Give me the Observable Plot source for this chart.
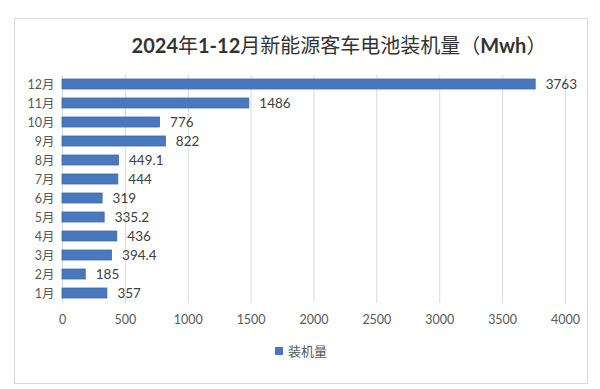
<!DOCTYPE html>
<html><head><meta charset="utf-8">
<script src="https://cdn.jsdelivr.net/npm/d3@7"></script>
<script src="https://cdn.jsdelivr.net/npm/@observablehq/plot@0.6"></script>
<style>
body{margin:0;background:#fff;}
#wrap{position:relative;width:600px;height:389px;overflow:hidden;font-family:Lato,"Noto Sans CJK SC",sans-serif;}
#border{position:absolute;left:14px;top:18px;width:574px;height:366px;border:1px solid #d9d9d9;box-sizing:border-box;}
#title{position:absolute;left:0;top:30px;width:678px;text-align:center;font-size:20px;font-weight:bold;color:#333;font-family:Lato,"Noto Sans CJK SC",sans-serif;white-space:nowrap;}
#title .cjk{font-weight:400;font-family:"Noto Sans CJK SC",sans-serif;}
#legend{position:absolute;left:275px;top:341px;font-size:13px;color:#595959;font-family:"Noto Sans CJK SC",sans-serif;display:flex;align-items:center;}
#legend span.sw{display:inline-block;width:8px;height:8px;background:#4a78be;margin-right:5px;}
#chart{position:absolute;left:0;top:0;}
</style></head>
<body>
<div id="wrap">
<div id="border"></div>
<div id="chart"></div>
<div id="title">2024<span class="cjk">年</span>1-12<span class="cjk">月新能源客车电池装机量（</span>Mwh<span class="cjk">）</span></div>
<div id="legend"><span class="sw"></span>装机量</div>
</div>
<script>
const months = ["1月","2月","3月","4月","5月","6月","7月","8月","9月","10月","11月","12月"];
const values = [357,185,394.4,436,335.2,319,444,449.1,822,776,1486,3763];
const labels = ["357","185","394.4","436","335.2","319","444","449.1","822","776","1486","3763"];
const xTicks = [0,500,1000,1500,2000,2500,3000,3500,4000];

const data = months.map((m,i)=>({month:m,value:values[i],label:labels[i]}));

const chart = Plot.plot({
  width:600,
  height:389,
  marginLeft:62,
  marginRight:35,
  marginTop:75,
  marginBottom:86,
  style:{fontFamily:'Lato,"Noto Sans CJK SC",sans-serif',background:"transparent"},
  x:{domain:[0,4000],ticks:xTicks,tickSize:0,tickPadding:12,label:null},
  y:{domain:months.slice().reverse(),paddingInner:0.45,paddingOuter:0.225,tickSize:0,tickPadding:8,label:null},
  marks:[
    Plot.gridX(xTicks,{stroke:"#d9d9d9",strokeOpacity:1,strokeWidth:1}),
    Plot.barX(data,{x:"value",y:"month",fill:"#4a78be",stroke:"#3f69a8",strokeWidth:0.8}),
    Plot.text(data,{x:"value",y:"month",text:"label",textAnchor:"start",dx:10,fontSize:13.5,fill:"#404040"}),
    Plot.axisX(xTicks,{tickSize:0,tickPadding:12,fontSize:12.5,color:"#595959",label:null,tickFormat:d=>String(d)}),
    Plot.axisY({tickSize:0,tickPadding:8,fontSize:12.5,color:"#595959",label:null})
  ]
});
document.getElementById("chart").appendChild(chart);
</script>
</body></html>
